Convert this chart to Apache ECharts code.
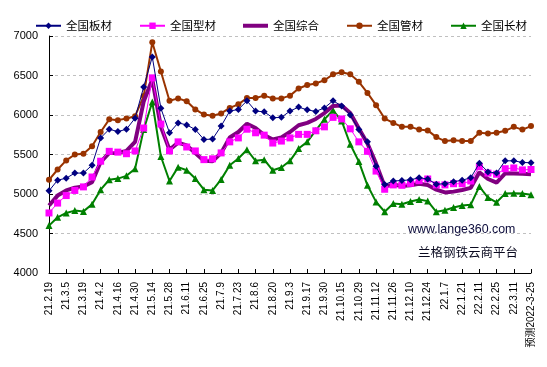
<!DOCTYPE html>
<html>
<head>
<meta charset="utf-8">
<script src="https://cdn.jsdelivr.net/npm/echarts@6/dist/echarts.min.js"></script>
<style>
html,body{margin:0;padding:0;background:#fff;}
#chart{width:547px;height:367px;}
</style>
</head>
<body>
<div id="chart"></div>
<script>
const categories = ["21.2.19","21.2.26","21.3.5","21.3.12","21.3.19","21.3.26","21.4.2","21.4.9","21.4.16","21.4.23",
"21.4.30","21.5.7","21.5.14","21.5.21","21.5.28","21.6.4","21.6.11","21.6.18","21.6.25","21.7.2",
"21.7.9","21.7.16","21.7.23","21.7.30","21.8.6","21.8.13","21.8.20","21.8.27","21.9.3","21.9.10",
"21.9.17","21.9.24","21.9.30","21.10.8","21.10.15","21.10.22","21.10.29","21.11.5","21.11.12","21.11.19",
"21.11.26","21.12.3","21.12.10","21.12.17","21.12.24","21.12.31","22.1.7","22.1.14","22.1.21","22.1.28",
"22.2.11","22.2.18","22.2.25","22.3.4","22.3.11","22.3.18","预测2022-3-25"];

const seriesNames = ["全国板材","全国型材","全国综合","全国管材","全国长材"];

const plate = [5040,5175,5200,5265,5265,5365,5710,5820,5790,5820,
5960,6355,6735,6085,5775,5900,5875,5815,5690,5695,
5860,6050,6070,6180,6050,6040,5965,5970,6050,6100,
6065,6045,6090,6180,6115,6000,5815,5660,5350,5120,
5165,5170,5180,5205,5190,5125,5130,5155,5175,5205,
5390,5280,5265,5420,5420,5400,5395];

const section = [4760,4885,4980,5045,5090,5215,5415,5540,5530,5510,
5545,5835,6470,5885,5545,5660,5595,5545,5435,5445,
5520,5660,5710,5820,5775,5745,5645,5670,5710,5755,
5755,5800,5850,5970,5950,5825,5660,5540,5290,5060,
5115,5110,5135,5170,5190,5115,5115,5130,5130,5165,
5345,5265,5250,5320,5330,5305,5310];

const composite = [4855,4980,5045,5080,5095,5150,5405,5520,5520,5545,
5660,6170,6450,5850,5560,5650,5615,5520,5420,5415,
5520,5715,5785,5890,5835,5745,5690,5715,5785,5870,
5900,5950,6025,6115,6120,6025,5830,5640,5385,5095,
5120,5100,5110,5130,5115,5055,5020,5030,5050,5078,
5275,5190,5145,5262,5260,5255,5250];

const pipe = [5180,5310,5425,5500,5510,5605,5785,5945,5935,5955,
5985,6240,6920,6550,6180,6210,6175,6070,6005,5990,
6020,6090,6135,6215,6215,6245,6210,6210,6245,6335,
6380,6400,6440,6515,6540,6515,6420,6280,6125,5955,
5900,5850,5850,5815,5805,5720,5670,5680,5670,5670,
5775,5765,5775,5800,5850,5815,5860];

const longProd = [4600,4705,4760,4790,4780,4870,5055,5180,5195,5230,
5320,5815,6165,5475,5165,5340,5300,5195,5055,5045,
5185,5365,5450,5560,5420,5435,5300,5335,5420,5575,
5660,5805,5945,6060,5925,5630,5410,5110,4900,4775,
4880,4870,4905,4930,4910,4775,4795,4830,4855,4865,
5095,4955,4895,5005,5010,5005,4990];

const yTicks = {min: 4000, max: 7000, step: 500};
const watermark = ["www.lange360.com", "兰格钢铁云商平台"];

const chart = echarts.init(document.getElementById('chart'), null, {renderer: 'canvas'});

const colors = ['#000080', '#FF00FF', '#800080', '#993300', '#008000'];

const legendData = seriesNames.map((n, i) => i === 2
  ? {name: n, icon: 'path://M0,0 L25,0 L25,4 L0,4 Z', itemStyle: {color: colors[2]}}
  : {name: n});

chart.setOption({
  animation: false,
  backgroundColor: '#ffffff',
  color: colors,
  legend: {
    top: 15,
    left: 30,
    itemWidth: 25,
    itemHeight: 8,
    itemGap: 27,
    textStyle: {fontFamily: '"Noto Sans CJK SC", sans-serif', fontSize: 11.5, color: '#000'},
    data: legendData
  },
  grid: {left: 49, right: 16, top: 36, bottom: 94},
  xAxis: {
    type: 'category',
    data: categories,
    boundaryGap: false,
    axisLine: {lineStyle: {color: '#000', width: 1}},
    axisTick: {inside: true, interval: 1, length: 4, lineStyle: {color: '#000'}},
    axisLabel: {
      interval: 1, rotate: 90, margin: 9,
      fontFamily: 'Arial, "Liberation Sans", "Noto Sans CJK SC", sans-serif',
      fontSize: 10, color: '#000'
    },
    splitLine: {show: false}
  },
  yAxis: {
    type: 'value',
    min: yTicks.min, max: yTicks.max, interval: yTicks.step,
    axisLine: {show: true, lineStyle: {color: '#000', width: 1}},
    axisTick: {show: true, inside: true, length: 4, lineStyle: {color: '#000'}},
    axisLabel: {fontFamily: 'Arial, "Liberation Sans", sans-serif', fontSize: 11, color: '#000', margin: 11,
      formatter: v => String(v)},
    splitLine: {show: true, lineStyle: {color: '#c0c0c0', type: [3, 3], width: 1}}
  },
  graphic: [
    {type: 'text', left: 408, top: 224, style: {text: watermark[0], font: '12.4px Arial, "Liberation Sans", sans-serif', fill: '#0a0a3a'}},
    {type: 'text', left: 418, top: 246, style: {text: watermark[1], font: '12.5px "Noto Sans CJK SC", sans-serif', fill: '#0a0a20'}}
  ],
  series: [
    {name: seriesNames[0], type: 'line', data: plate, symbol: 'diamond', symbolSize: 7, showAllSymbol: true,
     lineStyle: {width: 1, color: colors[0]}, itemStyle: {color: colors[0]}, z: 5},
    {name: seriesNames[1], type: 'line', data: section, symbol: 'rect', symbolSize: 7, showAllSymbol: true,
     lineStyle: {width: 1, color: colors[1]}, itemStyle: {color: colors[1]}, z: 4},
    {name: seriesNames[2], type: 'line', data: composite, symbol: 'none',
     lineStyle: {width: 4, color: colors[2]}, itemStyle: {color: colors[2]}, z: 3},
    {name: seriesNames[3], type: 'line', data: pipe, symbol: 'circle', symbolSize: 6, showAllSymbol: true,
     lineStyle: {width: 2, color: colors[3]}, itemStyle: {color: colors[3]}, z: 2},
    {name: seriesNames[4], type: 'line', data: longProd, symbol: 'triangle', symbolSize: 7, showAllSymbol: true,
     lineStyle: {width: 2, color: colors[4]}, itemStyle: {color: colors[4]}, z: 2}
  ]
});
</script>
</body>
</html>
